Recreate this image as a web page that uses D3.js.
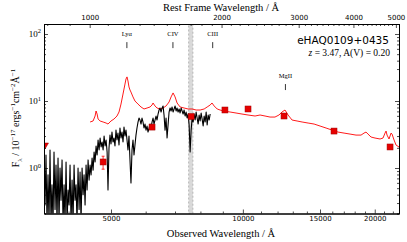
<!DOCTYPE html>
<html>
<head>
<meta charset="utf-8">
<script src="https://cdn.jsdelivr.net/npm/d3@7"></script>
<style>
body { margin: 0; background: #fff; }
</style>
</head>
<body>
<div id="chart-area"></div>
<script>
// observed spectrum (black), wavelength in A, flux in 1e-17 erg/s/cm2/A
var obsWave = [3516,3535,3553,3572,3591,3610,3629,3648,3667,3687,3706,3726,3745,3765,3785,3805,3825,3845,3866,3886,
	3907,3927,3948,3969,3990,4011,4032,4053,4075,4096,4118,4139,4161,4183,4205,4228,4250,4272,4295,4318,
	4340,4363,4386,4409,4433,4456,4480,4503,4527,4551,4575,4599,4623,4648,4672,4697,4722,4747,4772,4797,
	4822,4848,4873,4899,4922,4948,4974,5000,5026,5053,5079,5106,5133,5160,5187,5215,5242,5270,5298,5326,
	5354,5382,5410,5439,5467,5496,5525,5554,5584,5613,5643,5672,5702,5732,5763,5793,5824,5855,5885,5917,
	5948,5979,6011,6043,6074,6107,6139,6171,6204,6237,6269,6302,6336,6369,6403,6437,6471,6505,6539,6574,
	6608,6643,6678,6714,6749,6785,6821,6857,6893,6929,6966,7003,7040,7077,7114,7152,7190,7228,7266,7304,
	7343,7382,7421,7460,7499,7539,7579,7619,7659,7699,7740,7781,7822,7863,7905,7946,7988,8031,8073,8116,
	8159,8202,8245,8289,8333,8377,8421];
var obsFlux = [1.86,0.28,1.56,0.15,0.79,0.15,1.86,0.15,0.56,0.15,1.73,0.24,1.11,0.15,1.41,0.15,1.00,0.33,1.32,0.15,
	0.56,0.15,1.23,0.15,0.47,0.28,1.11,0.15,0.66,0.15,1.11,0.33,0.56,0.15,1.00,0.24,0.87,0.15,1.00,0.40,
	0.79,0.28,1.11,0.47,1.32,0.66,1.11,0.79,1.41,0.93,1.73,1.23,2.13,1.56,2.62,1.86,2.80,2.06,2.44,1.86,
	3.00,2.13,2.62,1.73,0.47,1.99,3.10,2.28,3.44,2.44,2.80,2.13,3.68,2.62,3.32,2.20,3.95,2.80,3.44,2.44,
	4.08,3.00,3.68,2.62,1.86,3.00,1.32,0.60,1.86,2.62,1.56,2.20,3.10,3.95,4.85,5.57,5.20,4.53,5.57,4.85,
	3.95,4.53,3.68,4.23,3.44,3.95,4.53,3.95,4.85,5.57,4.53,5.20,5.97,5.20,6.39,7.34,7.86,6.85,7.86,8.43,
	6.18,3.68,5.57,2.80,4.38,6.85,7.86,7.09,8.14,6.85,7.60,8.43,7.09,7.86,6.85,7.60,6.62,7.86,7.09,6.39,
	7.34,5.97,6.85,5.57,6.39,4.38,1.73,3.68,5.57,4.85,6.39,5.20,6.85,5.57,4.53,6.18,5.03,6.62,5.38,4.23,
	5.97,4.85,6.85,4.38,6.18,5.20,6.39];

// quasar model (red)
var modelWave = [4480,4551,4599,4623,4648,4672,4722,4797,4873,4922,5000,5079,5160,5215,5270,5326,5382,5410,5439,5467,
	5496,5525,5554,5613,5672,5763,5855,5948,6043,6139,6204,6237,6302,6369,6471,6574,6678,6785,6857,6929,
	7003,7077,7190,7343,7499,7659,7822,7988,8159,8289,8421,8503,8600,8737,8869,9055,9348,9647,9955,10275,
	10662,10946,11235,11535,11840,12090,12285,12480,12680,12950,13295,13650,14090,14540,15005,15485,15980,16490,17020,17565,
	18125,18610,18905,19105,19305,19615,20030,20565,20890,21110,21225,21335,21560,21790,21905,22135,22370,22720];
var modelFlux = [4.86,5.03,5.97,7.09,6.39,5.38,5.03,4.86,4.69,4.53,5.03,5.38,5.97,6.85,9.0,12.7,17.9,21.3,22.9,19.9,
	16.2,14.6,13.6,11.5,10.0,9.0,8.14,7.60,7.86,8.14,8.72,9.34,8.43,7.86,7.60,7.86,8.43,9.66,11.5,13.2,
	11.5,9.34,8.14,7.86,7.60,7.60,7.34,7.34,7.60,8.14,8.72,9.34,8.43,7.60,7.34,7.09,6.85,6.62,6.39,6.18,
	5.97,6.18,5.97,5.76,5.76,6.18,6.85,7.34,6.18,5.20,5.03,4.86,4.69,4.53,4.23,3.95,3.68,3.44,3.32,3.21,
	3.10,3.10,3.32,3.44,3.21,2.90,2.80,2.71,2.80,3.32,3.56,3.10,2.71,3.32,3.21,2.62,2.20,2.06];

// photometry (squares) and the u-band point (triangle)
var photWave = [4797,6204,7619,9101,10275,12415,16146,21676];
var photFlux = [1.23,4.08,5.87,7.34,7.60,5.97,3.56,2.06];
var photErr = [0.27,0.08,0.08,0.08,0.08,0.08,0.06,0.05];
var limitWave = [3535];
var limitFlux = [2.13];

// emission lines
var lineNames = ["Ly\u03b1", "CIV", "CIII", "MgII"];
var lineRest = [1216, 1549, 1909, 2798];
var lineLabelFlux = [93, 93, 93, 22];

var redshift = 3.47;
var telluric = [7520, 7690];

var bottomTicks = [5000, 10000, 15000, 20000];
var bottomMinor = [4000, 6000, 7000, 8000, 9000, 11000, 12000, 13000, 14000, 16000, 17000, 18000, 19000, 21000, 22000];
var topTicks = [1000, 2000, 3000, 4000, 5000];
var topMinor = [800, 900, 1100, 1200, 1300, 1400, 1500, 1600, 1700, 1800, 1900, 2100, 2200, 2300, 2400, 2500, 2600,
	2700, 2800, 2900, 3100, 3200, 3300, 3400, 3500, 3600, 3700, 3800, 3900, 4100, 4200, 4300, 4400, 4500, 4600, 4700, 4800, 4900];
var yTicks = [1, 10, 100];
var yExp = ["0", "1", "2"];
var yMinor = [0.3, 0.4, 0.5, 0.6, 0.7, 0.8, 0.9, 2, 3, 4, 5, 6, 7, 8, 9, 20, 30, 40, 50, 60, 70, 80, 90];

var margin = {left:44, right:8, top:24, bottom:28.5};
var width = 407 - margin.left - margin.right,
	height = 242 - margin.top - margin.bottom;

var serif = "'Liberation Serif', 'DejaVu Serif', serif";
var sans = "'DejaVu Sans', sans-serif";

var svg = d3.select("#chart-area")
	.append("svg")
		.attr("width", 407)
		.attr("height", 242);
var canvas = svg.append("g")
		.attr("transform", "translate(" + margin.left + ", " + margin.top + ")");

//scales
var x = d3.scaleLog().domain([3516, 22720]).range([0, width]);
var xRest = d3.scaleLog().domain([3516 / (1 + redshift), 22720 / (1 + redshift)]).range([0, width]);
var y = d3.scaleLog().domain([0.2094, 141]).range([height, 0]);

canvas.append("clipPath").attr("id", "clip")
	.append("rect").attr("width", width).attr("height", height);

var plot = canvas.append("g").attr("clip-path", "url(#clip)");

// telluric band
plot.append("rect")
	.attr("x", x(telluric[0]))
	.attr("y", 0)
	.attr("width", x(telluric[1]) - x(telluric[0]))
	.attr("height", height)
	.attr("fill", "#d9d9d9")
	.attr("stroke", "#aaa")
	.attr("stroke-width", 0.8)
	.attr("stroke-dasharray", "2,2");

var line = d3.line()
	.x(function(d){ return x(d[0]); })
	.y(function(d){ return y(d[1]); });

plot.append("path")
	.datum(modelWave.map(function(w, i){ return [w, modelFlux[i]]; }))
	.attr("d", line)
	.attr("fill", "none")
	.attr("stroke", "red")
	.attr("stroke-width", 0.9);

plot.append("path")
	.datum(obsWave.map(function(w, i){ return [w, obsFlux[i]]; }))
	.attr("d", line)
	.attr("fill", "none")
	.attr("stroke", "#000")
	.attr("stroke-width", 1.1)
	.attr("stroke-linejoin", "round");

// photometry
var phot = photWave.map(function(w, i){ return {w: w, f: photFlux[i], e: photErr[i]}; });

plot.selectAll(".err")
	.data(phot)
	.enter().append("path")
		.attr("class", "err")
		.attr("d", function(d){
			var cx = x(d.w), y0 = y(d.f - d.e), y1 = y(d.f + d.e);
			return "M" + cx + "," + y0 + "V" + y1 + "M" + (cx - 1.5) + "," + y0 + "H" + (cx + 1.5) +
				"M" + (cx - 1.5) + "," + y1 + "H" + (cx + 1.5);
		})
		.attr("stroke", "red")
		.attr("stroke-width", 0.8)
		.attr("fill", "none");

plot.selectAll(".phot")
	.data(phot)
	.enter().append("rect")
		.attr("class", "phot")
		.attr("x", function(d){ return x(d.w) - 3; })
		.attr("y", function(d){ return y(d.f) - 3; })
		.attr("width", 6)
		.attr("height", 6)
		.attr("fill", "#e60000")
		.attr("stroke", "#a00000")
		.attr("stroke-width", 0.5);

plot.selectAll(".limit")
	.data(limitWave)
	.enter().append("path")
		.attr("class", "limit")
		.attr("d", function(d, i){
			var cx = x(d), cy = y(limitFlux[i]);
			return "M" + (cx - 3.5) + "," + (cy - 3) + "H" + (cx + 3.5) + "L" + cx + "," + (cy + 3) + "Z";
		})
		.attr("fill", "#e60000")
		.attr("stroke", "#a00000")
		.attr("stroke-width", 0.5);

// emission line markers
lineNames.forEach(function(name, i){
	var lx = x(lineRest[i] * (1 + redshift));
	var ly = y(lineLabelFlux[i]);
	canvas.append("text")
		.attr("x", lx)
		.attr("y", ly)
		.attr("text-anchor", "middle")
		.attr("font-family", serif)
		.attr("font-size", "6.5px")
		.text(name);
	canvas.append("line")
		.attr("x1", lx).attr("x2", lx)
		.attr("y1", ly + 6).attr("y2", ly + 12)
		.attr("stroke", "#000")
		.attr("stroke-width", 0.8);
});

//axes
var fmt = d3.format("d");

canvas.append("g")
	.attr("transform", "translate(0, " + height + ")")
	.call(d3.axisBottom(x).tickValues(bottomMinor).tickSize(-2).tickFormat(""));
canvas.append("g")
	.attr("class", "axis")
	.attr("transform", "translate(0, " + height + ")")
	.call(d3.axisBottom(x).tickValues(bottomTicks).tickSize(-4).tickSizeOuter(0).tickPadding(3).tickFormat(fmt));

canvas.append("g")
	.call(d3.axisTop(xRest).tickValues(topMinor).tickSize(-2).tickFormat(""));
canvas.append("g")
	.attr("class", "axis")
	.call(d3.axisTop(xRest).tickValues(topTicks).tickSize(-4).tickSizeOuter(0).tickPadding(4).tickFormat(fmt));

canvas.append("g")
	.call(d3.axisLeft(y).tickValues(yMinor).tickSize(-2).tickFormat(""));
canvas.append("g")
	.call(d3.axisLeft(y).tickValues(yTicks).tickSize(-4).tickSizeOuter(0).tickFormat(""));
canvas.append("g")
	.attr("transform", "translate(" + width + ", 0)")
	.call(d3.axisRight(y).tickValues(yMinor).tickSize(-2).tickFormat(""));
canvas.append("g")
	.attr("transform", "translate(" + width + ", 0)")
	.call(d3.axisRight(y).tickValues(yTicks).tickSize(-4).tickSizeOuter(0).tickFormat(""));

canvas.selectAll(".domain").attr("stroke", "#000").attr("stroke-width", 1);
canvas.selectAll(".tick line").attr("stroke", "#000").attr("stroke-width", 0.7);
canvas.selectAll(".axis text").attr("font-family", sans).attr("font-size", "7px").attr("fill", "#000");

// y tick labels 10^n
yTicks.forEach(function(t, i){
	var lab = canvas.append("text")
		.attr("x", -3)
		.attr("y", y(t) + 3)
		.attr("text-anchor", "end")
		.attr("font-family", serif)
		.attr("font-size", "9px");
	lab.append("tspan").text("10");
	lab.append("tspan").attr("dy", -3.5).attr("font-size", "6.5px").text(yExp[i]);
});

function richText(sel, parts, size) {
	var shift = 0;
	parts.forEach(function(p){
		var target = p[1] == "sup" ? -size * 0.38 : (p[1] == "sub" ? size * 0.25 : 0);
		var t = sel.append("tspan").attr("dy", target - shift).text(p[0]);
		if (p[1] != "n") t.attr("font-size", (size * 0.7) + "px");
		shift = target;
	});
}

//labels
svg.append("text")
	.attr("x", 221)
	.attr("y", 11)
	.attr("text-anchor", "middle")
	.attr("font-family", serif)
	.attr("font-size", "10.5px")
	.text("Rest Frame Wavelength / \u00c5");

svg.append("text")
	.attr("x", 221)
	.attr("y", 237)
	.attr("text-anchor", "middle")
	.attr("font-family", serif)
	.attr("font-size", "10.5px")
	.text("Observed Wavelength / \u00c5");

var yLabel = svg.append("text")
	.attr("transform", "translate(19, 118) rotate(-90)")
	.attr("text-anchor", "middle")
	.attr("font-family", serif)
	.attr("font-size", "10px");
richText(yLabel, [["F", "n"], ["\u03bb", "sub"], [" / 10", "n"], ["\u221217", "sup"], [" ergs", "n"], ["\u22121", "sup"],
	["cm", "n"], ["\u22122", "sup"], ["\u00c5", "n"], ["\u22121", "sup"]], 10);

svg.append("text")
	.attr("x", 389)
	.attr("y", 44)
	.attr("text-anchor", "end")
	.attr("font-family", sans)
	.attr("font-size", "10.5px")
	.text("eHAQ0109+0435");

var zText = svg.append("text")
	.attr("x", 390)
	.attr("y", 56)
	.attr("text-anchor", "end")
	.attr("font-family", serif)
	.attr("font-size", "9.5px");
zText.append("tspan").attr("font-style", "italic").text("z");
zText.append("tspan").text(" = 3.47, A(V) = 0.20");
</script>
</body>
</html>
